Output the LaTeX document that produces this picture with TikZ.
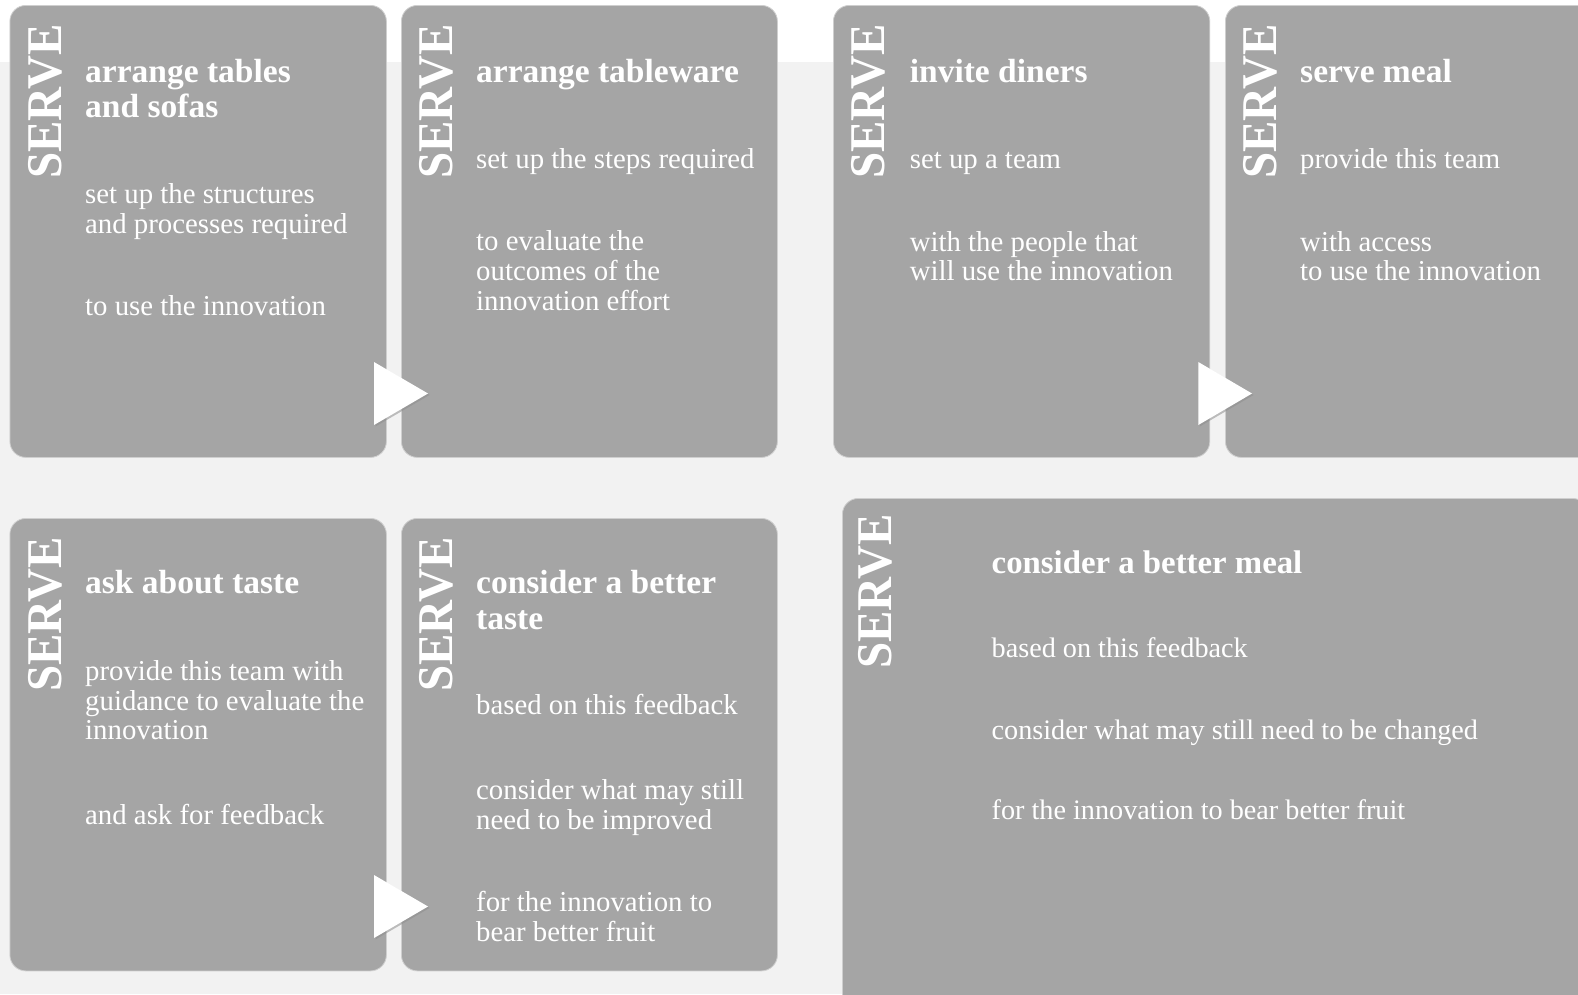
\documentclass[tikz,border=0pt]{standalone}
\usepackage{fontspec}
\setmainfont{Liberation Serif}
\definecolor{cardgray}{HTML}{A5A5A5}
\definecolor{pagegray}{HTML}{F2F2F2}
\definecolor{cardedge}{HTML}{CFCFCF}
\definecolor{tipshade}{HTML}{8E8E8E}

% multi-line nodes below are anchored at the baseline of their last line
\tikzset{
  card/.style={draw=cardedge, line width=0.8pt, fill=cardgray,
    rounded corners=16pt, inner sep=0, anchor=north west},
  serve/.style={rotate=90, anchor=base west, inner sep=0, text=white,
    font=\fontsize{50}{50}\selectfont\bfseries},
  title/.style={anchor=base west, inner sep=0, text=white, align=left,
    font=\fontsize{33.5}{35.5}\selectfont\bfseries},
  body/.style={anchor=base west, inner sep=0, text=white, align=left,
    font=\fontsize{28.8}{29.8}\selectfont},
  widetitle/.style={title, font=\fontsize{32.8}{35}\selectfont\bfseries},
  widebody/.style={body, font=\fontsize{28.2}{29.5}\selectfont},
  flow/.style={fill=white},
  flowshade/.style={fill=tipshade, opacity=0.55},
}

\newcommand{\serveword}{\scalebox{0.94}[1]{SERVE}}

\begin{document}
\begin{tikzpicture}[x=1pt, y=-1pt]
  \useasboundingbox (0,0) rectangle (1578,994);
  \clip (0,0) rectangle (1578,994);

  % page background: white band on top, light grey below
  \fill[white] (0,0) rectangle (1578,62);
  \fill[pagegray] (0,62) rectangle (1578,994);

  % cards
  \node[card, minimum width=376.5pt, minimum height=452pt] (c1) at (9.5,5) {};
  \node[card, minimum width=376pt,   minimum height=452pt] (c2) at (401,5) {};
  \node[card, minimum width=376.4pt, minimum height=452pt] (c3) at (833,5) {};
  \node[card, minimum width=376pt,   minimum height=452pt] (c4) at (1225,5) {};
  \node[card, minimum width=376.5pt, minimum height=452.5pt] (c5) at (9.5,518) {};
  \node[card, minimum width=376pt,   minimum height=452.5pt] (c6) at (401,518) {};
  \node[card, minimum width=746pt,   minimum height=517pt] (c7) at (842,498) {};

  % flow markers between paired cards
  \fill[flowshade] (375.5,363.5) -- (429.5,395) -- (375.5,426.5) -- cycle;
  \fill[flow] (374,362) -- (428,393.5) -- (374,425) -- cycle;
  \fill[flowshade] (1199.8,363.5) -- (1253.5,395) -- (1199.8,426.5) -- cycle;
  \fill[flow] (1198.3,362) -- (1252,393.5) -- (1198.3,425) -- cycle;
  \fill[flowshade] (375.5,876.5) -- (429.5,908) -- (375.5,939.5) -- cycle;
  \fill[flow] (374,875) -- (428,906.5) -- (374,938) -- cycle;

  % vertical labels
  \node[serve] (s1) at (61,179) {\serveword};
  \node[serve] (s2) at (452.5,179) {\serveword};
  \node[serve] (s3) at (884.8,179) {\serveword};
  \node[serve] (s4) at (1276.5,179) {\serveword};
  \node[serve] (s5) at (61,692) {\serveword};
  \node[serve] (s6) at (452.5,692) {\serveword};
  \node[serve] (s7) at (891.8,669) {\serveword};

  \begin{scope}[yshift=-1.5pt]
  % card 1
  \node[title] (t1) at (85,116) {arrange tables\\and sofas};
  \node[body] (b1a) at (85,231.7) {set up the structures\\and processes required};
  \node[body] (b1b) at (85,314) {to use the innovation};

  % card 2
  \node[title] (t2) at (476,81) {arrange tableware};
  \node[body] (b2a) at (476,167) {set up the steps required};
  \node[body] (b2b) at (476,309) {to evaluate the\\outcomes of the\\innovation effort};

  % card 3
  \node[title] (t3) at (909.6,80.7) {invite diners};
  \node[body] (b3a) at (909.6,166.7) {set up a team};
  \node[body] (b3b) at (909.6,279.3) {with the people that\\will use the innovation};

  % card 4
  \node[title] (t4) at (1300,80.7) {serve meal};
  \node[body] (b4a) at (1300,166.7) {provide this team};
  \node[body] (b4b) at (1300,279.3) {with access\\to use the innovation};

  % card 5
  \node[title] (t5) at (85,592.3) {ask about taste};
  \node[body] (b5a) at (85,738.3) {provide this team with\\guidance to evaluate the\\innovation};
  \node[body] (b5b) at (85,822.7) {and ask for feedback};

  % card 6
  \node[title] (t6) at (476,627.7) {consider a better\\taste};
  \node[body] (b6a) at (476,713.3) {based on this feedback};
  \node[body] (b6b) at (476,827.7) {consider what may still\\need to be improved};
  \node[body] (b6c) at (476,940) {for the innovation to\\bear better fruit};

  % card 7
  \node[widetitle] (t7) at (991.5,571.7) {consider a better meal};
  \node[widebody] (b7a) at (991.5,656) {based on this feedback};
  \node[widebody] (b7b) at (991.5,738.3) {consider what may still need to be changed};
  \node[widebody] (b7c) at (991.5,818.3) {for the innovation to bear better fruit};
  \end{scope}
\end{tikzpicture}
\end{document}
